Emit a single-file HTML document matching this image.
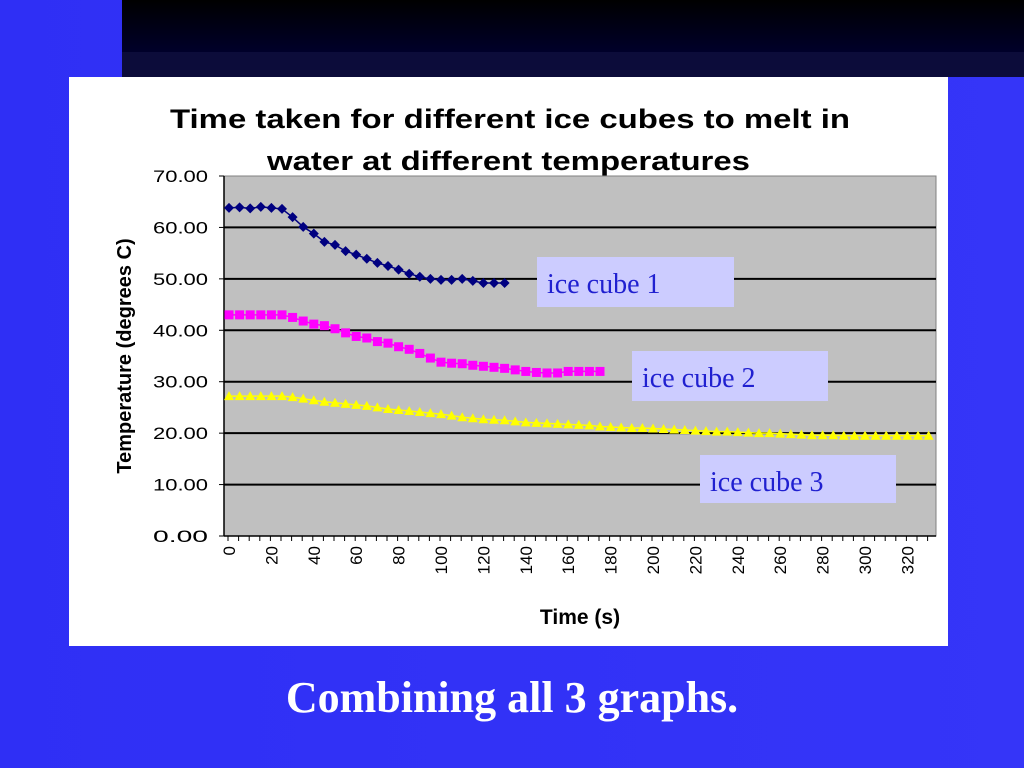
<!DOCTYPE html>
<html><head><meta charset="utf-8"><style>
body{margin:0;width:1024px;height:768px;overflow:hidden;background:#3030f0;font-family:"Liberation Sans",sans-serif}
#bg{position:absolute;left:0;top:0;width:1024px;height:768px;background:linear-gradient(90deg,#2f2ff5 0%,#3535f8 100%)}
#topbar{position:absolute;left:122px;top:0;width:902px;height:52px;background:linear-gradient(180deg,#000 0%,#00002a 100%)}
#topbar2{position:absolute;left:122px;top:52px;width:902px;height:25px;background:#0c0c3a}
#panel{position:absolute;left:69px;top:77px;width:879px;height:569px;background:#fff}
.lbl{position:absolute;background:#ccccff;color:#2020d0;font-family:"Liberation Serif",serif;font-size:28px;line-height:56px;padding-left:10px;box-sizing:border-box;overflow:hidden}
#cap{position:absolute;left:0;width:1024px;top:672px;text-align:center;color:#fff;font-family:"Liberation Serif",serif;font-weight:bold;font-size:44px}
</style></head><body>
<div id="bg"></div>
<div id="topbar"></div>
<div id="topbar2"></div>
<div id="panel"></div>
<svg id="chart" width="1024" height="768" style="position:absolute;left:0;top:0"></svg>
<div class="lbl" style="left:537px;top:257px;width:197px;height:50px">ice cube 1</div>
<div class="lbl" style="left:632px;top:351px;width:196px;height:50px">ice cube 2</div>
<div class="lbl" style="left:700px;top:455px;width:196px;height:48px">ice cube 3</div>
<div id="cap">Combining all 3 graphs.</div>
<script>
const yTicks=[0,10,20,30,40,50,60,70];
const xTickLabels=[0,20,40,60,80,100,120,140,160,180,200,220,240,260,280,300,320];
const ice1=[63.8,63.9,63.7,64,63.8,63.6,62,60.1,58.8,57.2,56.6,55.4,54.7,53.9,53.1,52.5,51.8,51,50.4,50,49.8,49.8,50,49.6,49.2,49.2,49.2];
const ice2=[43,43,43,43,43,43,42.5,41.8,41.2,40.9,40.3,39.5,38.8,38.5,37.8,37.5,36.8,36.3,35.5,34.6,33.8,33.6,33.5,33.2,33,32.8,32.6,32.3,32,31.8,31.7,31.7,32,32,32,32];
const ice3=[27.2,27.2,27.2,27.2,27.2,27.2,27,26.7,26.4,26.1,25.9,25.7,25.5,25.3,25,24.7,24.5,24.3,24.1,23.9,23.7,23.4,23.1,22.9,22.7,22.6,22.5,22.3,22.1,22,21.9,21.8,21.7,21.6,21.5,21.3,21.2,21.1,21,21,20.9,20.8,20.7,20.6,20.5,20.4,20.3,20.3,20.2,20.1,20,20,19.9,19.8,19.7,19.6,19.6,19.6,19.5,19.5,19.5,19.5,19.5,19.5,19.5,19.5,19.5];
const step=5;
const svg=document.getElementById('chart');
const NS='http://www.w3.org/2000/svg';
const PL=224,PR=936,PT=176,PB=536;
const X=t=>229+t*2.12;
const Y=v=>PB-(v/70)*(PB-PT);
function mk(tag,attrs,parent){const e=document.createElementNS(NS,tag);for(const k in attrs)e.setAttribute(k,attrs[k]);(parent||svg).appendChild(e);return e;}
let e;
e=mk('rect',{x:PL,y:PT,width:PR-PL,height:PB-PT,fill:'#c0c0c0',stroke:'#808080'});


e=mk('text',{x:170,y:128,'font-size':27,'font-weight':'bold',fill:'#000',textLength:680,lengthAdjust:'spacingAndGlyphs'});
e.textContent='Time taken for different ice cubes to melt in';


e=mk('text',{x:267,y:170,'font-size':27,'font-weight':'bold',fill:'#000',textLength:483,lengthAdjust:'spacingAndGlyphs'});
e.textContent='water at different temperatures';


yTicks.forEach(v=>{
  if(v>0&&v<70){const g=mk('line',{x1:PL,x2:PR,y1:Y(v),y2:Y(v),stroke:'#000','stroke-width':2});
  
  }
  mk('line',{x1:PL-5,x2:PL,y1:Y(v),y2:Y(v),stroke:'#000'});
  const t=mk('text',{x:153,y:Y(v)+6,'font-size':17,fill:'#000',textLength:55,lengthAdjust:'spacingAndGlyphs'});
  t.textContent=v.toFixed(2);
  
  
});
mk('line',{x1:PL,x2:PL,y1:PT,y2:PB,stroke:'#000','stroke-width':1.5});
mk('line',{x1:PL,x2:PR,y1:PB,y2:PB,stroke:'#000','stroke-width':1.5});
for(let t=0;t<=333;t+=step){mk('line',{x1:X(t)-1,x2:X(t)-1,y1:PB,y2:PB+5,stroke:'#000'});}
xTickLabels.forEach(v=>{
  const t=mk('text',{transform:`translate(${X(v)+6},${PB+10}) rotate(-90)`,'text-anchor':'end','font-size':17,fill:'#000'});
  t.textContent=v;
  
  
});
e=mk('text',{x:580,y:624,'text-anchor':'middle','font-size':21,'font-weight':'bold',fill:'#000'});
e.textContent='Time (s)';


e=mk('text',{transform:'translate(131,356) rotate(-90)','text-anchor':'middle','font-size':20,'font-weight':'bold',fill:'#000'});
e.textContent='Temperature (degrees C)';


function series(data,color,shape,name){
  const pts=data.map((v,i)=>[X(i*step),Y(v)]).filter(p=>p[0]<=PR);
  const l=mk('polyline',{points:pts.map(p=>p.join(',')).join(' '),fill:'none',stroke:color,'stroke-width':1.5});
  
  
  pts.forEach(([x,y])=>{
    let m;
    if(shape==='d')m=mk('polygon',{points:`${x},${y-5} ${x+5},${y} ${x},${y+5} ${x-5},${y}`,fill:color});
    else if(shape==='s')m=mk('rect',{x:x-4.5,y:y-4.5,width:9,height:9,fill:color});
    else m=mk('polygon',{points:`${x},${y-5} ${x+5},${y+4} ${x-5},${y+4}`,fill:color});
    
    
  });
}
series(ice3,'#ffff00','t','ice-cube-3');
series(ice2,'#ff00ff','s','ice-cube-2');
series(ice1,'#000080','d','ice-cube-1');
</script>
</body></html>
